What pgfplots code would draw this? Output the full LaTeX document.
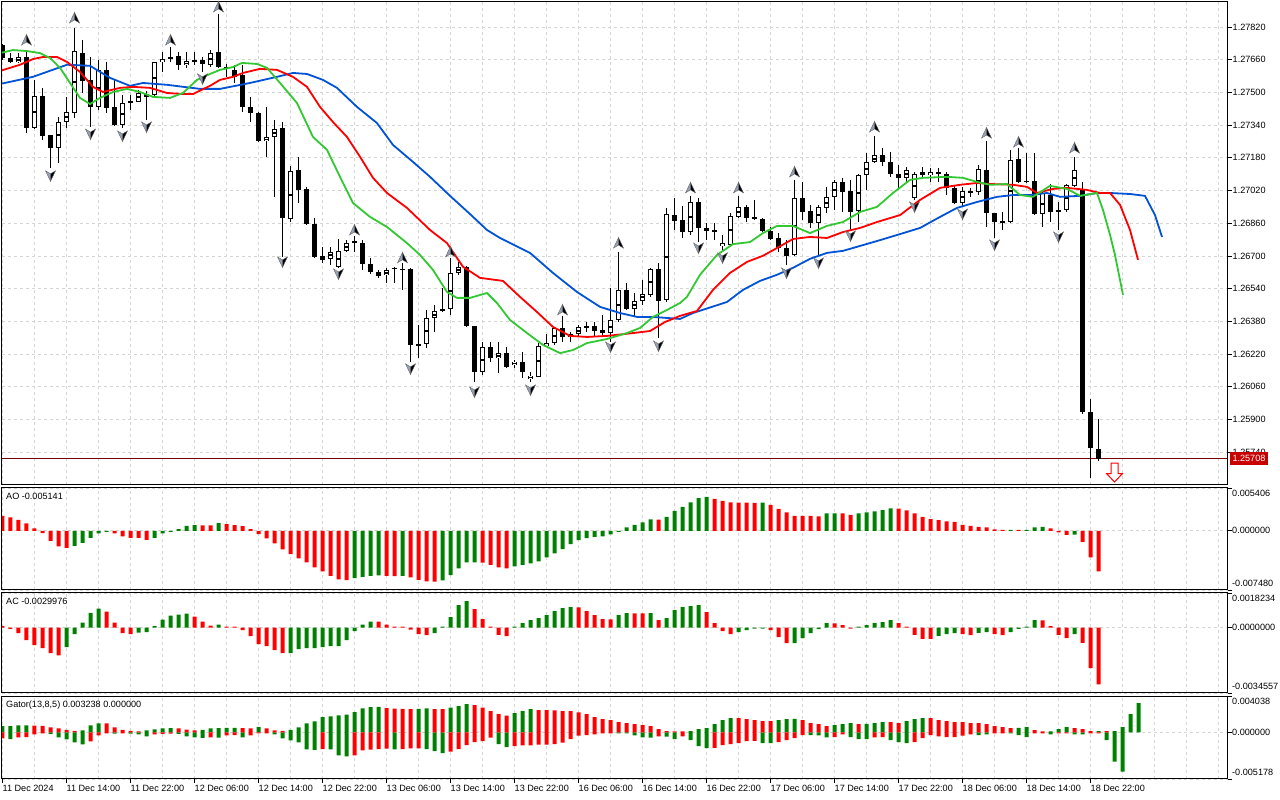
\documentclass[border=0pt]{standalone}
\usepackage{fontspec}
\setmainfont{Liberation Sans}
\usepackage{pgfplots}
\usepackage{pgfplotstable}
\pgfplotsset{compat=1.18}

\definecolor{hgreen}{RGB}{0,128,0}
\definecolor{hred}{RGB}{255,0,0}
\definecolor{jawblue}{RGB}{0,82,214}
\definecolor{teethred}{RGB}{255,0,0}
\definecolor{lipsgreen}{RGB}{50,200,50}
\definecolor{gridgray}{RGB}{212,212,212}
\definecolor{pricered}{RGB}{200,0,0}
\definecolor{lineprice}{RGB}{120,0,0}
\definecolor{fraclight}{RGB}{150,160,185}

\pgfdeclareplotmark{fup}{%
  \pgfsetfillcolor{fraclight}%
  \pgfpathmoveto{\pgfqpoint{0pt}{5.5pt}}%
  \pgfpathlineto{\pgfqpoint{-5pt}{-5pt}}%
  \pgfpathlineto{\pgfqpoint{0pt}{-2pt}}%
  \pgfpathclose
  \pgfusepathqfillstroke
  \pgfsetfillcolor{black}%
  \pgfpathmoveto{\pgfqpoint{0pt}{5.5pt}}%
  \pgfpathlineto{\pgfqpoint{5pt}{-5pt}}%
  \pgfpathlineto{\pgfqpoint{0pt}{-2pt}}%
  \pgfpathclose
  \pgfusepathqfillstroke}
\pgfdeclareplotmark{fdown}{%
  \pgfsetfillcolor{fraclight}%
  \pgfpathmoveto{\pgfqpoint{0pt}{-5.5pt}}%
  \pgfpathlineto{\pgfqpoint{-5pt}{5pt}}%
  \pgfpathlineto{\pgfqpoint{0pt}{2pt}}%
  \pgfpathclose
  \pgfusepathqfillstroke
  \pgfsetfillcolor{black}%
  \pgfpathmoveto{\pgfqpoint{0pt}{-5.5pt}}%
  \pgfpathlineto{\pgfqpoint{5pt}{5pt}}%
  \pgfpathlineto{\pgfqpoint{0pt}{2pt}}%
  \pgfpathclose
  \pgfusepathqfillstroke}
\pgfdeclareplotmark{sellarrow}{%
  \pgfpathmoveto{\pgfqpoint{-3.5pt}{9.5pt}}%
  \pgfpathlineto{\pgfqpoint{3.5pt}{9.5pt}}%
  \pgfpathlineto{\pgfqpoint{3.5pt}{-1pt}}%
  \pgfpathlineto{\pgfqpoint{8pt}{-1pt}}%
  \pgfpathlineto{\pgfqpoint{0pt}{-9.5pt}}%
  \pgfpathlineto{\pgfqpoint{-8pt}{-1pt}}%
  \pgfpathlineto{\pgfqpoint{-3.5pt}{-1pt}}%
  \pgfpathclose
  \pgfusepathqfillstroke}

\pgfplotstableread{
i O H L C
0 1.27732 1.27736 1.27659 1.27668
1 1.27668 1.27693 1.27644 1.27649
2 1.27649 1.27693 1.27644 1.27673
3 1.27673 1.27697 1.27301 1.27326
4 1.27326 1.27561 1.27321 1.27483
5 1.27483 1.27522 1.27267 1.27287
6 1.27292 1.27292 1.27131 1.27228
7 1.27228 1.27380 1.27155 1.27355
8 1.27355 1.27478 1.27326 1.27404
9 1.27399 1.27815 1.27375 1.27702
10 1.27693 1.27756 1.27497 1.27556
11 1.27561 1.27673 1.27331 1.27429
12 1.27429 1.27659 1.27414 1.27610
13 1.27610 1.27649 1.27399 1.27424
14 1.27429 1.27561 1.27336 1.27341
15 1.27341 1.27488 1.27326 1.27448
16 1.27448 1.27488 1.27414 1.27458
17 1.27453 1.27512 1.27453 1.27497
18 1.27492 1.27507 1.27365 1.27478
19 1.27488 1.27649 1.27478 1.27649
20 1.27649 1.27697 1.27600 1.27663
21 1.27668 1.27722 1.27649 1.27673
22 1.27678 1.27697 1.27610 1.27635
23 1.27634 1.27697 1.27620 1.27654
24 1.27659 1.27697 1.27634 1.27649
25 1.27659 1.27673 1.27600 1.27639
26 1.27634 1.27707 1.27624 1.27693
27 1.27697 1.27883 1.27620 1.27624
28 1.27624 1.27639 1.27576 1.27615
29 1.27610 1.27634 1.27546 1.27576
30 1.27586 1.27634 1.27404 1.27429
31 1.27429 1.27478 1.27355 1.27399
32 1.27399 1.27404 1.27257 1.27262
33 1.27262 1.27429 1.27185 1.27282
34 1.27282 1.27365 1.26989 1.27321
35 1.27326 1.27355 1.26696 1.26886
36 1.26881 1.27141 1.26866 1.27116
37 1.27121 1.27185 1.26959 1.27023
38 1.27028 1.27038 1.26851 1.26856
39 1.26856 1.26886 1.26691 1.26696
40 1.26701 1.26744 1.26666 1.26681
41 1.26686 1.26744 1.26657 1.26720
42 1.26647 1.26783 1.26642 1.26725
43 1.26725 1.26778 1.26720 1.26763
44 1.26768 1.26798 1.26720 1.26773
45 1.26763 1.26778 1.26632 1.26661
46 1.26661 1.26691 1.26612 1.26622
47 1.26622 1.26632 1.26593 1.26603
48 1.26608 1.26642 1.26568 1.26632
49 1.26637 1.26647 1.26568 1.26642
50 1.26637 1.26666 1.26534 1.26632
51 1.26637 1.26642 1.26182 1.26265
52 1.26260 1.26363 1.26201 1.26270
53 1.26270 1.26436 1.26250 1.26397
54 1.26397 1.26461 1.26328 1.26431
55 1.26431 1.26544 1.26426 1.26441
56 1.26441 1.26691 1.26412 1.26617
57 1.26617 1.26671 1.26608 1.26647
58 1.26647 1.26652 1.26353 1.26358
59 1.26358 1.26358 1.26084 1.26133
60 1.26133 1.26279 1.26119 1.26255
61 1.26255 1.26279 1.26182 1.26201
62 1.26201 1.26279 1.26128 1.26225
63 1.26225 1.26255 1.26153 1.26158
64 1.26168 1.26192 1.26153 1.26182
65 1.26182 1.26230 1.26104 1.26133
66 1.26099 1.26133 1.26084 1.26114
67 1.26109 1.26274 1.26109 1.26260
68 1.26260 1.26318 1.26255 1.26274
69 1.26274 1.26353 1.26265 1.26348
70 1.26348 1.26407 1.26279 1.26304
71 1.26304 1.26328 1.26279 1.26318
72 1.26318 1.26363 1.26304 1.26353
73 1.26358 1.26377 1.26328 1.26353
74 1.26358 1.26377 1.26309 1.26333
75 1.26338 1.26412 1.26314 1.26323
76 1.26323 1.26544 1.26279 1.26387
77 1.26387 1.26720 1.26377 1.26534
78 1.26534 1.26568 1.26436 1.26441
79 1.26441 1.26519 1.26402 1.26480
80 1.26480 1.26583 1.26461 1.26514
81 1.26510 1.26642 1.26500 1.26637
82 1.26637 1.26666 1.26299 1.26480
83 1.26485 1.26935 1.26475 1.26905
84 1.26900 1.26984 1.26827 1.26871
85 1.26876 1.26945 1.26788 1.26817
86 1.26817 1.26994 1.26803 1.26964
87 1.26964 1.26984 1.26768 1.26837
88 1.26837 1.26861 1.26778 1.26822
89 1.26827 1.26861 1.26778 1.26822
90 1.26749 1.26803 1.26720 1.26763
91 1.26754 1.26910 1.26744 1.26896
92 1.26891 1.26994 1.26886 1.26940
93 1.26940 1.26950 1.26866 1.26886
94 1.26891 1.26974 1.26876 1.26881
95 1.26881 1.26886 1.26817 1.26822
96 1.26822 1.26842 1.26778 1.26783
97 1.26788 1.26812 1.26720 1.26739
98 1.26739 1.26778 1.26657 1.26701
99 1.26706 1.27072 1.26701 1.26984
100 1.26984 1.27062 1.26876 1.26915
101 1.26920 1.26950 1.26837 1.26861
102 1.26861 1.26950 1.26701 1.26940
103 1.26935 1.27038 1.26910 1.26989
104 1.26989 1.27072 1.26925 1.27062
105 1.27062 1.27082 1.26915 1.27013
106 1.27018 1.27072 1.26827 1.26915
107 1.26920 1.27102 1.26866 1.27097
108 1.27097 1.27204 1.27023 1.27160
109 1.27160 1.27287 1.27155 1.27194
110 1.27194 1.27228 1.27141 1.27160
111 1.27160 1.27209 1.27087 1.27101
112 1.27101 1.27146 1.27023 1.27082
113 1.27082 1.27136 1.27062 1.27121
114 1.26984 1.27111 1.26974 1.27101
115 1.27111 1.27136 1.27087 1.27097
116 1.27097 1.27131 1.27062 1.27111
117 1.27111 1.27131 1.27062 1.27101
118 1.27101 1.27111 1.26998 1.27033
119 1.27033 1.27048 1.26954 1.26959
120 1.26959 1.27038 1.26945 1.27018
121 1.27018 1.27033 1.26989 1.27013
122 1.27013 1.27146 1.26998 1.27126
123 1.27121 1.27262 1.26842 1.26910
124 1.26910 1.26910 1.26788 1.26866
125 1.26871 1.26915 1.26827 1.26866
126 1.26866 1.27219 1.26861 1.27170
127 1.27175 1.27228 1.27057 1.27062
128 1.27067 1.27204 1.27057 1.27062
129 1.27067 1.27204 1.26900 1.26905
130 1.26905 1.27013 1.26842 1.27008
131 1.26998 1.27052 1.26866 1.26915
132 1.26925 1.26964 1.26827 1.26920
133 1.26925 1.27052 1.26915 1.27048
134 1.27043 1.27185 1.27038 1.27121
135 1.27023 1.27062 1.25927 1.25937
136 1.25937 1.26001 1.25614 1.25761
137 1.25756 1.25903 1.25697 1.25708
}\candles

\pgfplotsset{
  mtpanel/.style={
    scale only axis, width=1225.5pt, xmin=-0.0625, xmax=153.125,
    axis line style={black, line width=1pt},
    tick align=outside, major tick length=4pt, minor tick length=0pt,
    xtick={0,8,...,136}, minor xtick={4,12,...,132,140,144,148,152},
    xmajorgrids, xminorgrids, ymajorgrids,
    major grid style={gridgray, dash pattern=on 3pt off 3pt, line width=0.8pt},
    minor grid style={gridgray, dash pattern=on 3pt off 3pt, line width=0.8pt},
    xtick pos=bottom, ytick pos=right, yticklabel pos=right,
    scaled y ticks=false, scaled x ticks=false,
    tick style={black, line width=0.8pt},
    clip mode=individual,
    tick label style={font=\fontsize{9.1}{11}\selectfont},
    yticklabel style={anchor=west, inner sep=0pt, xshift=1pt},
  },
  hbar/.style={ybar, bar width=4pt, bar shift=0pt, draw=none, fill=#1},
}

\begin{document}
\begin{tikzpicture}[font=\fontsize{9.1}{11}\selectfont]
\useasboundingbox (0,0) rectangle (1280pt,800pt);

% ---------------- main price panel ----------------
\begin{axis}[mtpanel, at={(2pt,315pt)}, anchor=south west, height=483pt,
  ymin=1.25580, ymax=1.27942,
  xticklabels={}, xtick style={draw=none},
  ytick={1.2574,1.2590,1.2606,1.2622,1.2638,1.2654,1.2670,1.2686,1.2702,1.2718,1.2734,1.2750,1.2766,1.2782},
  yticklabels={1.25740,1.25900,1.26060,1.26220,1.26380,1.26540,1.26700,1.26860,1.27020,1.27180,1.27340,1.27500,1.27660,1.27820}]

\addplot[lineprice, line width=0.8pt, mark=none] coordinates {(-1,1.25708) (154,1.25708)};

% wicks
\addplot[draw=none, mark=none,
  error bars/.cd, y dir=both, y explicit, error mark=none,
  error bar style={draw=black, line width=1pt}]
  table[x=i, y expr={(\thisrow{H}+\thisrow{L})/2}, y error expr={(\thisrow{H}-\thisrow{L})/2}] {\candles};
% bodies
\addplot[draw=none, mark=none,
  error bars/.cd, y dir=both, y explicit, error mark=none,
  error bar style={draw=black, line width=5pt}]
  table[x=i, y expr={(\thisrow{O}+\thisrow{C})/2}, y error expr={abs(\thisrow{C}-\thisrow{O})/2}] {\candles};
% white (bullish) body interiors
\addplot[draw=none, mark=none,
  restrict expr to domain={\thisrow{C}-\thisrow{O}}{0.00012:1},
  error bars/.cd, y dir=both, y explicit, error mark=none,
  error bar style={draw=white, line width=3pt, shorten <=1pt, shorten >=1pt}]
  table[x=i, y expr={(\thisrow{O}+\thisrow{C})/2}, y error expr={abs(\thisrow{C}-\thisrow{O})/2}] {\candles};

% Alligator: jaw, teeth, lips
\addplot[jawblue, line width=1.8pt, mark=none, line join=round] coordinates {
(-0.3,1.27541) (3.81,1.27576) (8.06,1.27635) (10.94,1.27630) (13.44,1.27571) (15.94,1.27532) (17.56,1.27546) (20.56,1.27537) (24.69,1.27517) (27.19,1.27517) (30.94,1.27546) (34.31,1.27576) (36.31,1.27595) (38.06,1.27590) (40.06,1.27561) (41.81,1.27522) (44.31,1.27429) (46.81,1.27350) (48.81,1.27243) (51.31,1.27160) (53.44,1.27087) (55.94,1.26994) (58.44,1.26905) (60.56,1.26827) (62.19,1.26788) (65.94,1.26715) (68.81,1.26617) (71.81,1.26524) (74.69,1.26451) (77.19,1.26421) (79.31,1.26402) (81.31,1.26402) (84.69,1.26392) (86.31,1.26421) (90.56,1.26475) (92.56,1.26534) (94.69,1.26578) (96.81,1.26608) (98.81,1.26642) (100.94,1.26686) (103.06,1.26715) (105.06,1.26725) (107.19,1.26749) (109.31,1.26773) (112.19,1.26807) (114.69,1.26837) (117.19,1.26891) (119.31,1.26935) (121.81,1.26964) (124.31,1.26989) (126.31,1.26998) (128.44,1.26998) (130.56,1.27008) (132.19,1.26989) (134.69,1.26994) (136.81,1.27008) (138.44,1.27008) (140.94,1.27003) (142.81,1.26994) (144.06,1.26900) (144.94,1.26793)};
\addplot[teethred, line width=1.8pt, mark=none, line join=round] coordinates {
(-0.3,1.27605) (2.19,1.27635) (3.81,1.27663) (5.06,1.27673) (6.81,1.27673) (8.06,1.27649) (9.69,1.27600) (11.31,1.27527) (12.56,1.27502) (14.69,1.27522) (16.31,1.27527) (18.44,1.27522) (20.56,1.27497) (22.56,1.27492) (23.81,1.27492) (25.94,1.27532) (27.19,1.27561) (28.81,1.27576) (30.06,1.27595) (32.19,1.27615) (34.31,1.27610) (36.31,1.27576) (38.06,1.27527) (39.69,1.27429) (41.31,1.27355) (43.06,1.27282) (44.69,1.27185) (46.31,1.27082) (48.06,1.27008) (50.56,1.26935) (53.44,1.26827) (55.56,1.26763) (57.56,1.26647) (59.69,1.26593) (62.56,1.26578) (64.69,1.26500) (66.81,1.26426) (68.81,1.26353) (70.94,1.26309) (73.06,1.26304) (75.56,1.26309) (78.81,1.26323) (80.94,1.26333) (82.81,1.26377) (84.69,1.26407) (86.81,1.26431) (88.81,1.26534) (90.94,1.26617) (93.06,1.26671) (95.06,1.26701) (96.81,1.26739) (98.81,1.26783) (100.94,1.26793) (103.06,1.26788) (105.06,1.26817) (107.19,1.26837) (109.31,1.26866) (112.19,1.26900) (114.69,1.26974) (117.19,1.27033) (119.69,1.27048) (121.81,1.27057) (123.44,1.27052) (126.31,1.27048) (128.06,1.27038) (129.31,1.27008) (131.31,1.27028) (133.06,1.27033) (135.56,1.27023) (137.19,1.27008) (138.44,1.27008) (139.69,1.26950) (140.94,1.26827) (141.94,1.26681)};
\addplot[lipsgreen, line width=1.8pt, mark=none, line join=round] coordinates {
(-0.3,1.27692) (1.31,1.27707) (3.06,1.27702) (4.69,1.27692) (5.94,1.27668) (7.19,1.27620) (8.44,1.27546) (9.69,1.27473) (10.94,1.27443) (12.19,1.27473) (13.81,1.27502) (15.56,1.27517) (17.19,1.27502) (18.81,1.27478) (20.94,1.27473) (22.56,1.27497) (24.31,1.27561) (25.94,1.27590) (27.19,1.27610) (28.81,1.27624) (29.94,1.27644) (31.81,1.27639) (33.06,1.27620) (34.69,1.27546) (36.81,1.27448) (38.81,1.27282) (40.56,1.27219) (42.19,1.27087) (43.81,1.26959) (45.94,1.26891) (48.06,1.26842) (50.56,1.26763) (52.19,1.26705) (53.81,1.26632) (55.56,1.26524) (56.81,1.26495) (58.44,1.26495) (60.56,1.26519) (61.81,1.26470) (63.44,1.26387) (65.56,1.26323) (67.56,1.26265) (69.69,1.26225) (71.31,1.26240) (73.06,1.26274) (75.56,1.26294) (78.06,1.26323) (79.69,1.26348) (81.31,1.26402) (83.06,1.26436) (84.69,1.26470) (85.56,1.26500) (87.19,1.26608) (89.31,1.26705) (91.31,1.26758) (93.44,1.26768) (95.06,1.26812) (96.81,1.26847) (98.81,1.26847) (100.94,1.26812) (103.06,1.26847) (105.06,1.26866) (107.19,1.26915) (109.31,1.26940) (111.31,1.27008) (113.44,1.27072) (115.06,1.27082) (118.06,1.27087) (120.06,1.27082) (121.81,1.27062) (123.44,1.27048) (125.56,1.27052) (127.19,1.26998) (128.81,1.26989) (130.94,1.27043) (133.06,1.27028) (134.69,1.26994) (136.81,1.27008) (137.56,1.26925) (138.44,1.26803) (139.06,1.26705) (140.06,1.26510)};

% fractals
\addplot[only marks, mark=fup, mark options={draw=black!60, line width=0.4pt}] coordinates {
(3,1.27756) (9,1.27864) (21,1.27756) (27,1.27918) (44,1.26827) (50,1.26691) (56,1.26720) (70,1.26436) (77,1.26763) (86,1.27033) (92,1.27033) (99,1.27111) (109,1.27331) (123,1.27301) (127,1.27257) (134,1.27228)};
\addplot[only marks, mark=fdown, mark options={draw=black!60, line width=0.4pt}] coordinates {
(6,1.27092) (11,1.27296) (15,1.27287) (18,1.27331) (25,1.27566) (35,1.26671) (42,1.26612) (51,1.26148) (59,1.26035) (66,1.26045) (76,1.26255) (82,1.26260) (87,1.26739) (90,1.26691) (98,1.26617) (102,1.26666) (106,1.26798) (114,1.26940) (120,1.26905) (124,1.26754) (132,1.26793)};
\addplot[only marks, mark=sellarrow, mark options={fill=white, draw=red, line width=1pt}] coordinates {(139,1.25641)};

\coordinate (pl) at (axis cs:153.125,1.25708);
\end{axis}
\node[fill=pricered, text=white, inner xsep=2.8pt, inner ysep=0pt, minimum height=13pt, anchor=west, xshift=2pt] at (pl) {1.25708};

% ---------------- AO ----------------
\begin{axis}[mtpanel, at={(2pt,210pt)}, anchor=south west, height=102pt,
  ymin=-0.00748, ymax=0.005406, ytick={-0.00748,0,0.005406}, yticklabels={,,},
  xticklabels={}, xtick style={draw=none}]
\addplot[hbar=hgreen] coordinates {
(9,-0.001895) (10,-0.001516) (11,-0.000884) (12,-0.000341) (13,-0.000126) (19,-0.000884) (20,-0.000341) (21,-0.000126) (22,0.000215) (23,0.000632) (24,0.000720) (27,0.000973) (44,-0.005974) (45,-0.005810) (46,-0.005684) (47,-0.005646) (50,-0.005684) (55,-0.006277) (56,-0.005595) (57,-0.004761) (58,-0.004004) (59,-0.003978) (64,-0.004509) (65,-0.004294) (66,-0.004130) (67,-0.003877) (68,-0.003372) (69,-0.002867) (70,-0.002311) (71,-0.001680) (72,-0.001175) (73,-0.000922) (74,-0.000758) (75,-0.000720) (76,-0.000467) (77,-0.000126) (78,0.000417) (79,0.000758) (80,0.001048) (81,0.001427) (83,0.001768) (84,0.002526) (85,0.003031) (86,0.003574) (87,0.004130) (88,0.004294) (95,0.003562) (103,0.002185) (104,0.002198) (107,0.002185) (108,0.002311) (109,0.002438) (110,0.002614) (111,0.002816) (126,0.000126) (128,0.000126) (129,0.000417) (130,0.000505) (134,-0.000480)};
\addplot[hbar=hred] coordinates {
(0,0.001895) (1,0.001680) (2,0.001389) (3,0.000922) (4,0.000290) (5,-0.000290) (6,-0.001263) (7,-0.001983) (8,-0.002147) (14,-0.000341) (15,-0.000720) (16,-0.000884) (17,-0.000909) (18,-0.001137) (25,0.000695) (26,0.000682) (28,0.000846) (29,0.000720) (30,0.000594) (31,0.000215) (32,-0.000417) (33,-0.000973) (34,-0.001604) (35,-0.002362) (36,-0.002943) (37,-0.003499) (38,-0.004004) (39,-0.004635) (40,-0.005140) (41,-0.005684) (42,-0.006151) (43,-0.006227) (48,-0.005709) (49,-0.005734) (51,-0.005898) (52,-0.006189) (53,-0.006403) (54,-0.006416) (60,-0.004016) (61,-0.004294) (62,-0.004635) (63,-0.004761) (82,0.001415) (89,0.004042) (90,0.003789) (91,0.003574) (92,0.003562) (93,0.003549) (94,0.003536) (96,0.003284) (97,0.002779) (98,0.002311) (99,0.001895) (100,0.001882) (101,0.001869) (102,0.001806) (105,0.002185) (106,0.002021) (112,0.002804) (113,0.002564) (114,0.002185) (115,0.001768) (116,0.001478) (117,0.001351) (118,0.001175) (119,0.001137) (120,0.000758) (121,0.000632) (122,0.000505) (123,0.000417) (124,0.000164) (125,0.000126) (127,0.000126) (131,0.000290) (132,-0.000215) (133,-0.000505) (135,-0.001389) (136,-0.003372) (137,-0.005141)};
\node[anchor=base west, inner sep=0pt, xshift=4pt, yshift=-11.5pt] at (rel axis cs:0,1) {AO -0.005141};
\node[anchor=base west, inner sep=0pt, xshift=4.5pt, yshift=-8.5pt] at (rel axis cs:1,1) {0.005406};
\node[anchor=west, inner sep=0pt, xshift=4.5pt] at (axis cs:153.125,0) {0.000000};
\node[anchor=base west, inner sep=0pt, xshift=4.5pt, yshift=3pt] at (rel axis cs:1,0) {-0.007480};
\end{axis}

% ---------------- AC ----------------
\begin{axis}[mtpanel, at={(2pt,107pt)}, anchor=south west, height=100pt,
  ymin=-0.0034557, ymax=0.0018234, ytick={-0.0034557,0,0.0018234}, yticklabels={,,},
  xticklabels={}, xtick style={draw=none}]
\addplot[hbar=hgreen] coordinates {
(8,-0.001040) (9,-0.000354) (10,0.000264) (11,0.000776) (12,0.001003) (17,-0.000264) (18,-0.000238) (19,0.000069) (20,0.000422) (21,0.000634) (22,0.000686) (23,0.000739) (27,0.000158) (36,-0.001352) (37,-0.001146) (38,-0.001093) (39,-0.001088) (40,-0.001040) (41,-0.000987) (42,-0.000982) (43,-0.000671) (44,-0.000195) (45,0.000158) (46,0.000317) (54,-0.000301) (55,0.000053) (56,0.000544) (57,0.001177) (58,0.001389) (64,0.000053) (65,0.000227) (66,0.000385) (67,0.000491) (68,0.000649) (69,0.000861) (70,0.001019) (71,0.001072) (77,0.000649) (78,0.000755) (81,0.000755) (83,0.000491) (84,0.000913) (85,0.001072) (86,0.001125) (87,0.001177) (92,-0.000248) (93,-0.000143) (94,-0.000053) (95,-0.000053) (99,-0.000824) (100,-0.000565) (101,-0.000301) (102,-0.000090) (103,0.000227) (107,0.000053) (108,0.000121) (109,0.000227) (110,0.000280) (111,0.000385) (117,-0.000438) (118,-0.000354) (119,-0.000301) (122,-0.000280) (123,-0.000248) (126,-0.000248) (127,-0.000069) (128,0.000053) (129,0.000385) (134,-0.000354)};
\addplot[hbar=hred] coordinates {
(0,0.000079) (1,-0.000069) (2,-0.000301) (3,-0.000671) (4,-0.000935) (5,-0.001093) (6,-0.001357) (7,-0.001463) (13,0.000845) (14,0.000264) (15,-0.000301) (16,-0.000354) (24,0.000581) (25,0.000317) (26,0.000106) (28,0.000053) (29,0.000053) (30,-0.000143) (31,-0.000459) (32,-0.000882) (33,-0.000987) (34,-0.001199) (35,-0.001357) (47,0.000312) (48,0.000158) (49,0.000053) (50,0.000053) (51,-0.000106) (52,-0.000354) (53,-0.000407) (59,0.000966) (60,0.000438) (61,0.000053) (62,-0.000385) (63,-0.000459) (72,0.001067) (73,0.000861) (74,0.000649) (75,0.000438) (76,0.000433) (79,0.000750) (80,0.000744) (82,0.000385) (88,0.000808) (89,0.000227) (90,-0.000195) (91,-0.000354) (96,-0.000143) (97,-0.000512) (98,-0.000829) (104,0.000222) (105,0.000121) (106,-0.000053) (112,0.000227) (113,0.000053) (114,-0.000385) (115,-0.000597) (116,-0.000602) (120,-0.000354) (121,-0.000407) (124,-0.000354) (125,-0.000407) (130,0.000380) (131,0.000069) (132,-0.000385) (133,-0.000565) (135,-0.000808) (136,-0.002149) (137,-0.0029976)};
\node[anchor=base west, inner sep=0pt, xshift=4pt, yshift=-11.5pt] at (rel axis cs:0,1) {AC -0.0029976};
\node[anchor=base west, inner sep=0pt, xshift=4.5pt, yshift=-8.5pt] at (rel axis cs:1,1) {0.0018234};
\node[anchor=west, inner sep=0pt, xshift=4.5pt] at (axis cs:153.125,0) {0.0000000};
\node[anchor=base west, inner sep=0pt, xshift=4.5pt, yshift=3pt] at (rel axis cs:1,0) {-0.0034557};
\end{axis}

% ---------------- Gator ----------------
\begin{axis}[mtpanel, at={(2pt,21pt)}, anchor=south west, height=83pt,
  ymin=-0.005178, ymax=0.004038, ytick={-0.005178,0,0.004038}, yticklabels={,,},
  xticklabels={11 Dec 2024,11 Dec 14:00,11 Dec 22:00,12 Dec 06:00,12 Dec 14:00,12 Dec 22:00,13 Dec 06:00,13 Dec 14:00,13 Dec 22:00,16 Dec 06:00,16 Dec 14:00,16 Dec 22:00,17 Dec 06:00,17 Dec 14:00,17 Dec 22:00,18 Dec 06:00,18 Dec 14:00,18 Dec 22:00},
  xticklabel style={anchor=north west, inner sep=0pt, yshift=-1.5pt}]
\addplot[hbar=hgreen] coordinates {
(0,0.000699) (1,0.000699) (1,-0.000744) (2,0.000777) (3,0.000788) (6,-0.000167) (7,-0.000555) (8,-0.000777) (9,-0.00111) (10,0.000222) (10,-0.001332) (11,0.000777) (12,0.000999) (14,-0.000133) (16,-0.000144) (17,-0.000222) (18,0.000222) (18,-0.000444) (19,0.000333) (20,0.000444) (21,0.000477) (22,-0.000167) (23,-0.000444) (24,-0.000555) (25,0.000278) (25,-0.000611) (26,0.000444) (27,0.000477) (27,-0.000577) (28,0.000488) (29,0.0005) (30,-0.000555) (32,0.000588) (34,-0.000222) (35,-0.000666) (36,0.000278) (36,-0.000888) (37,0.000555) (37,-0.00111) (38,0.000999) (38,-0.001887) (39,0.001221) (39,-0.001943) (40,0.001698) (41,0.001776) (41,-0.001887) (42,0.001887) (42,-0.002553) (43,0.001965) (43,-0.002664) (44,0.002253) (45,0.002664) (46,0.002808) (47,0.002819) (49,-0.001887) (52,0.002597) (53,0.002664) (53,-0.001854) (54,-0.002076) (55,-0.002298) (56,0.002742) (57,0.002919) (58,0.003141) (62,-0.001299) (63,-0.001632) (64,0.002142) (65,0.002364) (66,0.002586) (77,-0.000111) (78,-0.000111) (79,-0.000333) (80,-0.000555) (81,-0.000588) (83,-0.000477) (84,-0.000744) (86,0.000144) (86,-0.000855) (87,0.000366) (87,-0.001521) (88,0.000477) (88,-0.001743) (89,0.000921) (90,0.001365) (91,0.001587) (95,-0.001188) (96,-0.001199) (97,0.001365) (98,0.001476) (99,0.001487) (101,-0.000311) (102,-0.000322) (103,-0.000555) (104,0.00081) (105,0.000921) (106,0.001032) (106,-0.000522) (107,-0.000744) (108,0.000932) (108,-0.000755) (109,0.001032) (110,0.001143) (111,-0.000855) (112,-0.001077) (113,0.001254) (113,-0.001188) (114,0.001476) (115,0.001587) (122,-0.0003) (123,-0.000222) (126,-0.000111) (127,0.000488) (127,-0.0003) (128,0.000588) (128,-0.000522) (131,0.000111) (131,-0.000222) (132,0.000366) (133,0.000588) (134,-0.000222) (135,-0.000233) (137,0.000144) (138,-0.000855) (139,0.000144) (139,-0.003252) (140,0.000588) (140,-0.004362) (141,0.002031) (142,0.003238)};
\addplot[hbar=hred] coordinates {
(0,-0.000666) (2,-0.000555) (3,-0.000533) (4,0.000755) (4,-0.000222) (5,0.000722) (5,-0.000111) (6,0.000555) (7,0.000444) (8,0.000278) (9,0.000167) (11,-0.000999) (12,-0.000333) (13,0.000988) (13,-0.000111) (14,0.000555) (15,0.000278) (15,-0.000111) (16,0.000167) (17,0.000111) (19,-0.000222) (20,-0.000167) (21,-0.000144) (22,0.000444) (23,0.0003) (24,0.000222) (26,-0.000555) (28,-0.000333) (29,-0.000311) (30,0.000477) (31,0.000444) (31,-0.000333) (32,-0.000111) (33,0.000444) (33,-0.000111) (34,0.000222) (35,0.000167) (40,-0.001854) (44,-0.002553) (45,-0.001998) (46,-0.00192) (47,-0.001854) (48,0.002697) (48,-0.001809) (49,0.002631) (50,0.00262) (50,-0.001854) (51,0.002586) (51,-0.001776) (52,-0.001765) (54,0.002586) (55,0.002575) (56,-0.002142) (57,-0.001854) (58,-0.00141) (59,0.00303) (59,-0.001077) (60,0.002742) (60,-0.000966) (61,0.002364) (61,-0.000588) (62,0.002031) (63,0.001854) (64,-0.001521) (65,-0.001443) (66,-0.001432) (67,0.002475) (67,-0.001365) (68,0.002464) (68,-0.001354) (69,0.002453) (69,-0.001299) (70,0.002364) (70,-0.001143) (71,0.002353) (71,-0.000744) (72,0.00222) (72,-0.000366) (73,0.002031) (73,-0.0003) (74,0.001698) (74,-0.000222) (75,0.001476) (75,-0.000111) (76,0.001365) (76,-0.000111) (77,0.001143) (78,0.001032) (79,0.000921) (80,0.00081) (81,0.000699) (82,0.000366) (82,-0.000444) (83,0.000144) (84,0.000111) (85,0.000111) (85,-0.000444) (89,-0.001732) (90,-0.00141) (91,-0.001299) (92,0.001576) (92,-0.001188) (93,0.001476) (93,-0.000966) (94,0.001365) (94,-0.000955) (95,0.001254) (96,0.001243) (97,-0.001077) (98,-0.000855) (99,-0.000633) (100,0.001365) (100,-0.0003) (101,0.001032) (102,0.000921) (103,0.000699) (104,-0.000522) (105,-0.000222) (107,0.000921) (109,-0.000555) (110,-0.000522) (111,0.001132) (112,0.001032) (114,-0.001077) (115,-0.000633) (116,0.001576) (116,-0.0003) (117,0.001365) (117,-0.000444) (118,0.001254) (118,-0.000522) (119,0.001143) (119,-0.000522) (120,0.001132) (120,-0.000366) (121,0.001032) (121,-0.000222) (122,0.001021) (123,0.000921) (124,0.000699) (124,-0.000111) (125,0.000588) (125,-0.000111) (126,0.000477) (129,0.000255) (129,-0.000111) (130,0.000111) (130,-0.000111) (132,-0.000111) (133,-0.000111) (134,0.000477) (135,0.000366) (136,0.000144) (136,-0.000111) (137,-0.000111) (138,0.000144)};
\node[anchor=base west, inner sep=0pt, xshift=4pt, yshift=-11.5pt] at (rel axis cs:0,1) {Gator(13,8,5) 0.003238 0.000000};
\node[anchor=base west, inner sep=0pt, xshift=4.5pt, yshift=-8.5pt] at (rel axis cs:1,1) {0.004038};
\node[anchor=west, inner sep=0pt, xshift=4.5pt] at (axis cs:153.125,0) {0.000000};
\node[anchor=base west, inner sep=0pt, xshift=4.5pt, yshift=3pt] at (rel axis cs:1,0) {-0.005178};
\end{axis}
\end{tikzpicture}
\end{document}
